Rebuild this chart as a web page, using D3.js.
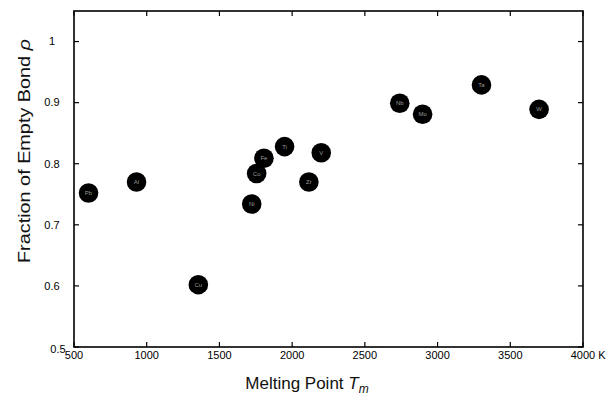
<!DOCTYPE html>
<html>
<head>
<meta charset="utf-8">
<script src="https://cdn.jsdelivr.net/npm/d3@7"></script>
<style>
  html, body { margin: 0; padding: 0; background: #fff; }
  svg { display: block; font-family: "Liberation Sans", Arial, Helvetica, sans-serif; }
</style>
</head>
<body>
<svg id="chart" width="612" height="396"></svg>
<script>
// Metals: melting point (K) versus fraction of empty bond
const elements     = ["Pb", "Al", "Cu", "Ni", "Co", "Fe", "Ti", "Zr", "V", "Nb", "Mo", "Ta", "W"];
const meltingPoint = [600, 930, 1355, 1722, 1756, 1806, 1948, 2115, 2200, 2740, 2897, 3302, 3698];
const emptyBond    = [0.752, 0.770, 0.602, 0.734, 0.784, 0.809, 0.828, 0.770, 0.818, 0.899, 0.881, 0.929, 0.889];

const xTicks = [500, 1000, 1500, 2000, 2500, 3000, 3500, 4000];
const yTicks = [0.5, 0.6, 0.7, 0.8, 0.9, 1];
const xDomain = [500, 4000];
const yDomain = [0.5, 1.05];

const svg = d3.select("#chart");
const plot = { left: 74, right: 583, top: 11, bottom: 347 };

const x = d3.scaleLinear().domain(xDomain).range([plot.left, plot.right]);
const y = d3.scaleLinear().domain(yDomain).range([plot.bottom, plot.top]);

const points = elements.map((e, i) => ({ name: e, t: meltingPoint[i], p: emptyBond[i] }));

// Markers
const g = svg.append("g");
g.selectAll("circle").data(points).join("circle")
  .attr("cx", d => x(d.t))
  .attr("cy", d => y(d.p))
  .attr("r", 9.8)
  .attr("fill", "#000");

g.selectAll("text").data(points).join("text")
  .attr("x", d => x(d.t))
  .attr("y", d => y(d.p))
  .attr("dy", "0.35em")
  .attr("text-anchor", "middle")
  .attr("font-size", 6)
  .attr("fill", "#9a9a9a")
  .text(d => d.name);

// Frame
svg.append("rect")
  .attr("x", plot.left).attr("y", plot.top)
  .attr("width", plot.right - plot.left).attr("height", plot.bottom - plot.top)
  .attr("fill", "none").attr("stroke", "#000").attr("stroke-width", 1.6);

// Ticks (inward, on all four sides)
const tickLen = 5;
const ticks = svg.append("g").attr("stroke", "#000").attr("stroke-width", 1.2);
xTicks.forEach(v => {
  ticks.append("line").attr("x1", x(v)).attr("x2", x(v)).attr("y1", plot.bottom).attr("y2", plot.bottom - tickLen);
  ticks.append("line").attr("x1", x(v)).attr("x2", x(v)).attr("y1", plot.top).attr("y2", plot.top + tickLen);
});
yTicks.forEach(v => {
  ticks.append("line").attr("x1", plot.left).attr("x2", plot.left + tickLen).attr("y1", y(v)).attr("y2", y(v));
  ticks.append("line").attr("x1", plot.right).attr("x2", plot.right - tickLen).attr("y1", y(v)).attr("y2", y(v));
});

// X tick labels
const xl = svg.append("g").attr("font-size", 11).attr("fill", "#000");
xTicks.forEach((v, i) => {
  const t = xl.append("text")
    .attr("x", x(v)).attr("y", 359)
    .attr("text-anchor", "middle")
    .text(d3.format("d")(v));
  if (i === xTicks.length - 1) {
    const w = t.node().getComputedTextLength();
    t.attr("text-anchor", "start").attr("x", x(v) - w / 2).text(v + " K");
  }
});

// Y tick labels
const yl = svg.append("g").attr("font-size", 11).attr("fill", "#000");
yTicks.forEach(v => {
  const isBase = v === yDomain[0];
  yl.append("text")
    .attr("x", isBase ? 58 : 52)
    .attr("y", y(v) + (isBase ? 2 : 0))
    .attr("dy", "0.35em")
    .attr("text-anchor", "middle")
    .text(v === 1 ? "1" : d3.format(".1f")(v));
});

// Axis titles
const xt = svg.append("text")
  .attr("x", 307).attr("y", 389)
  .attr("text-anchor", "middle")
  .attr("font-size", 17).attr("fill", "#111");
xt.append("tspan").text("Melting Point ");
xt.append("tspan").attr("font-style", "italic").text("T");
xt.append("tspan").attr("font-style", "italic").attr("font-size", 12).attr("dy", 4).text("m");

const yt = svg.append("text")
  .attr("transform", "translate(30,151) rotate(-90)")
  .attr("text-anchor", "middle")
  .attr("font-size", 17).attr("fill", "#111")
  .attr("textLength", 224).attr("lengthAdjust", "spacingAndGlyphs");
yt.append("tspan").text("Fraction of Empty Bond ");
yt.append("tspan").attr("font-style", "italic").text("ρ");
</script>
</body>
</html>
